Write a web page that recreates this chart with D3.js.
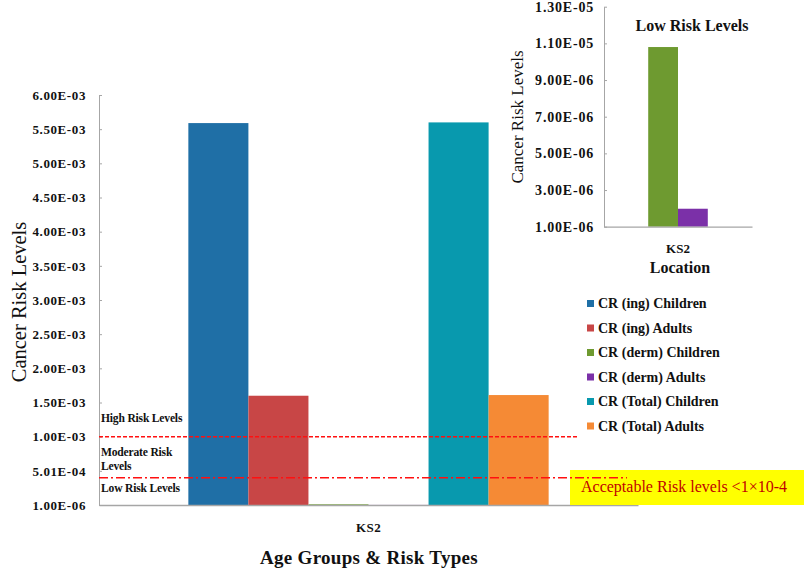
<!DOCTYPE html>
<html><head><meta charset="utf-8">
<script src="https://cdn.jsdelivr.net/npm/d3@7"></script>
<style>
body{margin:0;background:#fff;}
svg{display:block;font-family:"Liberation Serif","Times New Roman",serif;}
</style></head>
<body><svg id="c" width="809" height="572"></svg>
<script>
const categories = ["KS2"];
const seriesNames = ["CR (ing) Children","CR (ing) Adults","CR (derm) Children","CR (derm) Adults","CR (Total) Children","CR (Total) Adults"];
const seriesValues = [5.59e-3, 1.60e-3, 1.08e-5, 1.98e-6, 5.60e-3, 1.61e-3];
const seriesColors = ["#1f6fa6","#c84646","#6e9a30","#7b30a8","#0899ae","#f58a35"];
const mainTickValues = [1e-6,5.01e-4,1.001e-3,1.501e-3,2.001e-3,2.501e-3,3.001e-3,3.501e-3,4.001e-3,4.501e-3,5.001e-3,5.501e-3,6.001e-3];
const mainTickLabels = ["1.00E-06","5.01E-04","1.00E-03","1.50E-03","2.00E-03","2.50E-03","3.00E-03","3.50E-03","4.00E-03","4.50E-03","5.00E-03","5.50E-03","6.00E-03"];
const thresholdValues = [1.0e-3, 4.0e-4];
const zoneLabels = ["High Risk Levels","Moderate Risk","Levels","Low Risk Levels"];
const insetSeries = ["CR (derm) Children","CR (derm) Adults"];
const insetValues = [1.08e-5, 1.98e-6];
const insetTickValues = [1e-6,3e-6,5e-6,7e-6,9e-6,1.1e-5,1.3e-5];
const insetTickLabels = ["1.00E-06","3.00E-06","5.00E-06","7.00E-06","9.00E-06","1.10E-05","1.30E-05"];

const FONT = '"Liberation Serif","Times New Roman",serif';
const svg = d3.select("#c");
const axisCol = "#a6a6a6";

// ---------- main chart ----------
const M = {l:99, r:638, t:95, b:505};
const x0 = d3.scaleBand().domain(categories).range([M.l, M.r]).paddingInner(0).paddingOuter(0.248);
const x1 = d3.scaleBand().domain(seriesNames).range([0, x0.bandwidth()]).padding(0);
const y = d3.scaleLinear().domain([1e-6, 6.001e-3]).range([M.b, M.t]);

const g = svg.append("g");
categories.forEach(cat => {
  g.selectAll("rect.bar").data(seriesNames.map((s,i)=>({s, v:seriesValues[i], c:seriesColors[i]})))
    .enter().append("rect")
    .attr("x", d => x0(cat) + x1(d.s))
    .attr("y", d => y(d.v))
    .attr("width", x1.bandwidth())
    .attr("height", d => Math.max(0.8, y(1e-6) - y(d.v)))
    .attr("fill", d => d.c);
});

// y axis
const yAxis = d3.axisLeft(y).tickValues(mainTickValues)
  .tickFormat((d,i)=>mainTickLabels[i]).tickSizeInner(-3).tickSizeOuter(0).tickPadding(13);
const ya = svg.append("g").attr("transform",`translate(${M.l},0)`).call(yAxis).attr("font-family",FONT);
ya.select(".domain").attr("stroke", axisCol);
ya.selectAll(".tick line").attr("stroke", axisCol);
ya.selectAll(".tick text").attr("font-size", 13).attr("font-weight","bold")
  .attr("letter-spacing","0.6px").attr("fill","#111");

// x axis
const xAxis = d3.axisBottom(x0).tickSize(0).tickPadding(18);
const xa = svg.append("g").attr("transform",`translate(0,${M.b})`).call(xAxis).attr("font-family",FONT);
xa.select(".domain").attr("stroke", axisCol).attr("stroke-width",1.5);
xa.selectAll(".tick text").attr("font-size",13).attr("font-weight","bold").attr("fill","#111")
  .attr("letter-spacing","0.4px");

// yellow box
svg.append("rect").attr("x",570).attr("y",470).attr("width",234).attr("height",35).attr("fill","#ffff00");
svg.append("text").attr("x",581).attr("y",492).attr("font-size",16).attr("fill","#c00000")
  .text("Acceptable Risk levels <1×10-4");

// threshold lines
svg.append("line").attr("x1",M.l).attr("x2",578).attr("y1",y(thresholdValues[0])).attr("y2",y(thresholdValues[0]))
  .attr("stroke","#ff1010").attr("stroke-width",1.4).attr("stroke-dasharray","4,2");
svg.append("line").attr("x1",M.l).attr("x2",627).attr("y1",y(thresholdValues[1])).attr("y2",y(thresholdValues[1]))
  .attr("stroke","#ff1010").attr("stroke-width",1.4).attr("stroke-dasharray","9,3,2,3");

// zone labels
const zoneY = [422, 456, 470, 492];
zoneLabels.forEach((t,i)=>{
  svg.append("text").attr("x",101).attr("y",zoneY[i]).attr("font-size",11.6).attr("font-weight","bold")
    .attr("fill","#111").attr("letter-spacing","-0.2px").text(t);
});

// axis titles
svg.append("text").attr("transform","translate(26,302) rotate(-90)").attr("text-anchor","middle")
  .attr("font-size",20.5).attr("fill","#111").text("Cancer Risk Levels");
svg.append("text").attr("x",369).attr("y",564).attr("text-anchor","middle")
  .attr("font-size",19).attr("font-weight","bold").attr("letter-spacing","0.3px").attr("fill","#111").text("Age Groups & Risk Types");

// legend
const lg = svg.append("g");
seriesNames.forEach((s,i)=>{
  const yy = 308 + i*24.5;
  lg.append("rect").attr("x",587).attr("y",yy-8).attr("width",7).attr("height",7).attr("fill",seriesColors[i]);
  lg.append("text").attr("x",598).attr("y",yy).attr("font-size",14).attr("font-weight","bold")
    .attr("fill","#111").text(s);
});

// ---------- inset ----------
const I = {l:604, r:752, t:6.7, b:226.7};
const ix0 = d3.scaleBand().domain(categories).range([I.l, I.r]).paddingOuter(0.742).paddingInner(0);
const ix1 = d3.scaleBand().domain(insetSeries).range([0, ix0.bandwidth()]).padding(0);
const iy = d3.scaleLinear().domain([1e-6, 1.3e-5]).range([I.b, I.t]);
const insetColors = insetSeries.map(s => seriesColors[seriesNames.indexOf(s)]);
svg.append("g").selectAll("rect").data(insetSeries.map((s,i)=>({s, v:insetValues[i], c:insetColors[i]})))
  .enter().append("rect")
  .attr("x", d => ix0("KS2") + ix1(d.s))
  .attr("y", d => iy(d.v))
  .attr("width", ix1.bandwidth())
  .attr("height", d => iy(1e-6) - iy(d.v))
  .attr("fill", d => d.c);

const iya = svg.append("g").attr("transform",`translate(${I.l},0)`)
  .call(d3.axisLeft(iy).tickValues(insetTickValues).tickFormat((d,i)=>insetTickLabels[i])
    .tickSizeInner(-3).tickSizeOuter(0).tickPadding(10)).attr("font-family",FONT);
iya.select(".domain").attr("stroke", axisCol);
iya.selectAll(".tick line").attr("stroke", axisCol);
iya.selectAll(".tick text").attr("font-size",14).attr("font-weight","bold").attr("fill","#111")
  .attr("letter-spacing","0.8px");

const ixa = svg.append("g").attr("transform",`translate(0,${I.b})`)
  .call(d3.axisBottom(ix0).tickSize(0).tickPadding(17)).attr("font-family",FONT);
ixa.select(".domain").attr("stroke", axisCol).attr("stroke-width",1.2);
ixa.selectAll(".tick text").attr("font-size",13).attr("font-weight","bold").attr("fill","#111");

svg.append("text").attr("x",680).attr("y",273).attr("text-anchor","middle").attr("font-size",16)
  .attr("font-weight","bold").attr("fill","#111").text("Location");
svg.append("text").attr("x",692).attr("y",31).attr("text-anchor","middle").attr("font-size",16)
  .attr("font-weight","bold").attr("fill","#111").text("Low Risk Levels");
svg.append("text").attr("transform","translate(523,117) rotate(-90)").attr("text-anchor","middle")
  .attr("font-size",17).attr("fill","#111").text("Cancer Risk Levels");
</script></body></html>
